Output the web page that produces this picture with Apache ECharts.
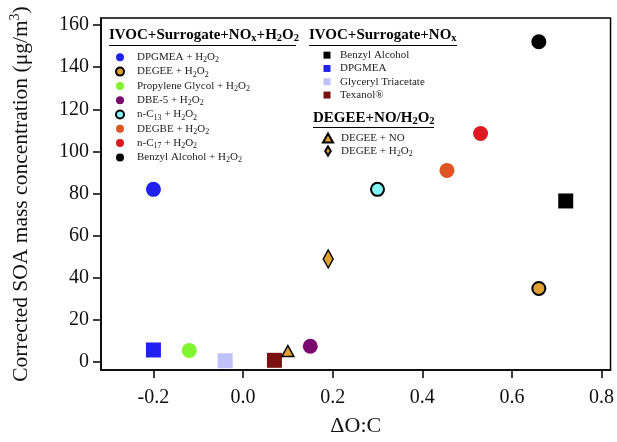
<!DOCTYPE html>
<html>
<head>
<meta charset="utf-8">
<script src="https://cdn.jsdelivr.net/npm/echarts@6/dist/echarts.min.js"></script>
<style>
    html, body { margin: 0; padding: 0; background: #fff; }
    #chart { width: 617px; height: 442px; }
</style>
</head>
<body>
<div id="chart"></div>
<script>
// IVOC + Surrogate + NOx + H2O2 (circles)
const h2o2Names = ['DPGMEA + H2O2', 'DEGEE + H2O2', 'Propylene Glycol + H2O2', 'DBE-5 + H2O2', 'n-C13 + H2O2', 'DEGBE + H2O2', 'n-C17 + H2O2', 'Benzyl Alcohol + H2O2'];
const h2o2Labels = ['DPGMEA + H{s|2}O{s|2}', 'DEGEE + H{s|2}O{s|2}', 'Propylene Glycol + H{s|2}O{s|2}', 'DBE-5 + H{s|2}O{s|2}', 'n-C{s|13} + H{s|2}O{s|2}', 'DEGBE + H{s|2}O{s|2}', 'n-C{s|17} + H{s|2}O{s|2}', 'Benzyl Alcohol + H{s|2}O{s|2}'];
const h2o2X = [-0.2, 0.66, -0.12, 0.15, 0.30, 0.455, 0.53, 0.66];
const h2o2Y = [82, 35, 5.6, 7.6, 82, 91, 108.5, 152];

// IVOC + Surrogate + NOx (squares)
const noxNames = ['Benzyl Alcohol', 'DPGMEA', 'Glyceryl Triacetate', 'Texanol®'];
const noxX = [0.72, -0.2, -0.04, 0.07];
const noxY = [76.5, 5.8, 0.7, 0.9];

// DEGEE + NO/H2O2
const degeeNames = ['DEGEE + NO', 'DEGEE + H2O2 (diamond)'];
const degeeLabels = ['DEGEE + NO', 'DEGEE + H{s|2}O{s|2}'];
const degeeX = [0.10, 0.19];
const degeeY = [5.3, 49];

const xTicks = [-0.2, 0.0, 0.2, 0.4, 0.6, 0.8];
const yTicks = [0, 20, 40, 60, 80, 100, 120, 140, 160];

const h2o2Colors = ['#2020f0', '#e0a030', '#80f530', '#7a0a70', '#80f8f8', '#dd5522', '#dd1a22', '#000000'];
const h2o2Outlined = [false, true, false, false, true, false, false, false];
const noxColors = ['#000000', '#2020f0', '#c0c0fa', '#7a1010'];
const gold = '#e0a030';

const serif = '"Liberation Serif", "DejaVu Serif", serif';
const labelMap = {};
h2o2Names.forEach((n, i) => labelMap[n] = h2o2Labels[i]);
degeeNames.forEach((n, i) => labelMap[n] = degeeLabels[i]);

const squareIcon = 'path://M0,0H10V10H0Z';
const triangleIcon = 'path://M5,0L10,9L0,9Z';
const diamondIcon = 'path://M5,0L10,8L5,16L0,8Z';

const series = [];
for (var i = 0; i < h2o2Names.length; i++) {
    series.push({
        name: h2o2Names[i],
        type: 'scatter',
        symbol: 'circle',
        symbolSize: h2o2Outlined[i] ? 13 : 15,
        itemStyle: {
            color: h2o2Colors[i],
            opacity: 1,
            borderColor: '#000',
            borderWidth: h2o2Outlined[i] ? 2 : 0
        },
        data: [[h2o2X[i], h2o2Y[i]]]
    });
}
for (var i = 0; i < noxNames.length; i++) {
    series.push({
        name: noxNames[i],
        type: 'scatter',
        symbol: 'rect',
        symbolSize: 15,
        itemStyle: { color: noxColors[i], opacity: 1 },
        data: [[noxX[i], noxY[i]]]
    });
}
series.push({
    name: degeeNames[0],
    type: 'scatter',
    symbol: 'triangle',
    symbolSize: [12, 11],
    itemStyle: { color: gold, opacity: 1, borderColor: '#000', borderWidth: 1.5 },
    data: [[degeeX[0], degeeY[0]]]
});
series.push({
    name: degeeNames[1],
    type: 'scatter',
    symbol: 'diamond',
    symbolSize: [10, 18],
    itemStyle: { color: gold, opacity: 1, borderColor: '#000', borderWidth: 1.5 },
    data: [[degeeX[1], degeeY[1]]]
});

const subRich = {
    s: { fontSize: 8, lineHeight: 8, verticalAlign: 'bottom', fontFamily: serif, color: '#222' }
};
const legendText = (lh, padLeft) => ({
    fontFamily: serif,
    fontSize: 11,
    color: '#222',
    lineHeight: lh,
    padding: [0, 0, 0, padLeft],
    rich: subRich
});
const legendBase = {
    orient: 'vertical',
    selectedMode: false,
    padding: 0,
    formatter: (name) => labelMap[name] || name
};

const headRich = {
    s: { fontSize: 10.5, lineHeight: 10, verticalAlign: 'bottom', fontFamily: serif, fontWeight: 'bold', color: '#000' }
};
const heading = (x, y, text) => ({
    type: 'text',
    left: x,
    top: y,
    style: {
        text: text,
        fontFamily: serif,
        fontWeight: 'bold',
        fontSize: 15,
        lineHeight: 18,
        fill: '#000',
        rich: headRich
    }
});
const underline = (x1, x2, y) => ({
    type: 'line',
    shape: { x1: x1, y1: y, x2: x2, y2: y },
    style: { stroke: '#000', lineWidth: 1 }
});

const chart = echarts.init(document.getElementById('chart'));
chart.setOption({
    animation: false,
    backgroundColor: '#fff',
    grid: {
        left: 97, right: 6, top: 18, bottom: 66,
        show: true,
        borderColor: '#000',
        borderWidth: 1.5
    },
    xAxis: {
        type: 'value',
        min: -0.317,
        max: 0.82,
        name: 'ΔO:C',
        nameLocation: 'middle',
        nameGap: 45,
        nameTextStyle: { fontFamily: serif, fontSize: 22, color: '#111' },
        axisLine: { onZero: false, lineStyle: { color: '#000', width: 1.5 } },
        axisTick: { length: 8, lineStyle: { color: '#000', width: 1.5 }, customValues: xTicks },
        axisLabel: {
            customValues: xTicks,
            fontFamily: serif, fontSize: 20, color: '#111', margin: 18,
            formatter: (v) => v.toFixed(1)
        },
        splitLine: { show: false }
    },
    yAxis: {
        type: 'value',
        min: -3.7,
        max: 163.3,
        name: 'Corrected SOA mass concentration (μg/m{sup|3})',
        nameLocation: 'middle',
        nameGap: 66,
        nameTextStyle: {
            fontFamily: serif, fontSize: 21.5, color: '#111', lineHeight: 27,
            rich: { sup: { fontFamily: serif, fontSize: 14, lineHeight: 13, verticalAlign: 'top', color: '#111' } }
        },
        axisLine: { onZero: false, lineStyle: { color: '#000', width: 1.5 } },
        axisTick: { length: 8, lineStyle: { color: '#000', width: 1.5 }, customValues: yTicks },
        axisLabel: {
            customValues: yTicks,
            fontFamily: serif, fontSize: 20, color: '#111', margin: 12
        },
        splitLine: { show: false }
    },
    legend: [
        Object.assign({}, legendBase, {
            left: 115, top: 50.3,
            itemWidth: 8, itemHeight: 8, itemGap: 0.3,
            textStyle: legendText(14, 8),
            data: h2o2Names
        }),
        Object.assign({}, legendBase, {
            left: 323.5, top: 48.5,
            itemWidth: 7, itemHeight: 7, itemGap: 0,
            textStyle: legendText(13.3, 4.5),
            data: noxNames.map((n) => ({ name: n, icon: squareIcon }))
        }),
        Object.assign({}, legendBase, {
            left: 322, top: 131.5,
            itemWidth: 10, itemHeight: 9, itemGap: 0,
            textStyle: legendText(13, 3),
            data: [
                { name: degeeNames[0], icon: triangleIcon },
                { name: degeeNames[1], icon: diamondIcon }
            ]
        })
    ],
    graphic: [
        heading(109, 26, 'IVOC+Surrogate+NO{s|x}+H{s|2}O{s|2}'),
        underline(109, 296, 45.5),
        heading(309, 26, 'IVOC+Surrogate+NO{s|x}'),
        underline(309, 457, 45.5),
        heading(313, 109, 'DEGEE+NO/H{s|2}O{s|2}'),
        underline(313, 434, 127.5)
    ],
    series: series
});
</script>
</body>
</html>
